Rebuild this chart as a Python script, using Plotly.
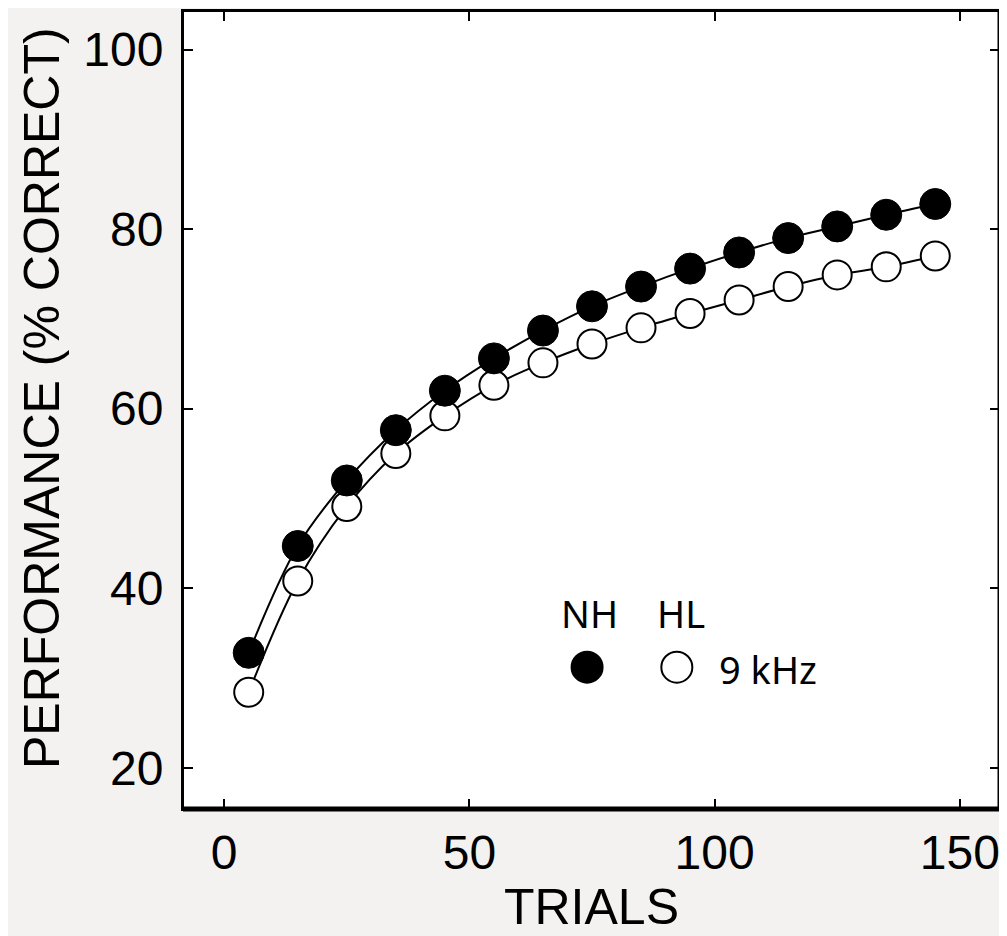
import plotly.graph_objects as go

trials = [5, 15, 25, 35, 45, 55, 65, 75, 85, 95, 105, 115, 125, 135, 145]
nh_pct = [32.8, 44.7, 52.0, 57.6, 62.0, 65.6, 68.7, 71.4, 73.6, 75.6, 77.4, 79.0, 80.3, 81.6, 82.8]
hl_pct = [28.4, 40.8, 49.1, 55.0, 59.2, 62.6, 65.1, 67.2, 69.0, 70.6, 72.1, 73.6, 74.9, 75.8, 77.0]

x_ticks = [0, 50, 100, 150]
y_ticks = [20, 40, 60, 80, 100]

# legend keys drawn inside the axes
key_x = [74.0, 92.3]
key_y = [31.2, 31.2]

tick_font = dict(family="Liberation Sans Narrow, Liberation Sans, sans-serif", size=48, color="black")
title_font = dict(family="Liberation Sans Narrow, Liberation Sans, sans-serif", size=50, color="black")
legend_font = dict(family="Noto Sans, Open Sans, sans-serif", size=38, color="black")

fig = go.Figure()

fig.add_trace(go.Scatter(
    x=trials, y=hl_pct, mode="lines+markers",
    line=dict(color="black", width=2, shape="spline"),
    marker=dict(size=29, color="white", line=dict(color="black", width=2)),
    showlegend=False))

fig.add_trace(go.Scatter(
    x=trials, y=nh_pct, mode="lines+markers",
    line=dict(color="black", width=2, shape="spline"),
    marker=dict(size=31, color="black", line=dict(color="black", width=1)),
    showlegend=False))

fig.add_trace(go.Scatter(
    x=key_x, y=key_y, mode="markers",
    marker=dict(size=31, color=["black", "white"], line=dict(color="black", width=2)),
    showlegend=False))

fig.add_annotation(x=74.4, y=37.2, text="NH", showarrow=False, font=legend_font)
fig.add_annotation(x=93.2, y=37.2, text="HL", showarrow=False, font=legend_font)
fig.add_annotation(x=100.5, y=31.0, text="9 kHz", showarrow=False, xanchor="left", font=legend_font)

# y title as annotation so it can sit slightly above the axis centre
fig.add_annotation(xref="paper", yref="paper", x=0, y=0.515, xshift=-141,
                   xanchor="center", yanchor="middle",
                   text="PERFORMANCE (% CORRECT)", textangle=-90, showarrow=False,
                   font=title_font)

fig.update_xaxes(
    range=[-8.4, 158.2], tickvals=x_ticks, ticks="inside", ticklen=10, tickwidth=2,
    tickcolor="black", showline=True, linewidth=2, linecolor="black", mirror="ticks",
    showgrid=False, zeroline=False, tickfont=tick_font,
    title=dict(text="TRIALS", font=title_font, standoff=6))

fig.update_yaxes(
    range=[15.4, 104.3], tickvals=y_ticks, ticks="inside", ticklen=10, tickwidth=2,
    tickcolor="black", showline=True, linewidth=2, linecolor="black", mirror="ticks",
    showgrid=False, zeroline=False, tickfont=tick_font, ticklabelstandoff=8)

# thicker bottom and right frame edges
fig.add_shape(type="line", xref="paper", yref="paper", x0=0, x1=1, y0=0, y1=0,
              line=dict(color="black", width=5))
fig.add_shape(type="line", xref="paper", yref="paper", x0=1, x1=1, y0=0, y1=1,
              line=dict(color="black", width=5))
fig.add_shape(type="line", xref="paper", yref="paper", x0=0, x1=1, y0=1, y1=1,
              line=dict(color="black", width=2))
fig.add_shape(type="line", xref="paper", yref="paper", x0=0, x1=0, y0=0, y1=1,
              line=dict(color="black", width=2))

fig.update_layout(
    width=1007, height=936,
    margin=dict(l=175, r=15, t=1, b=135),
    paper_bgcolor="#f3f2f0", plot_bgcolor="white")

fig.write_html("out.html")
